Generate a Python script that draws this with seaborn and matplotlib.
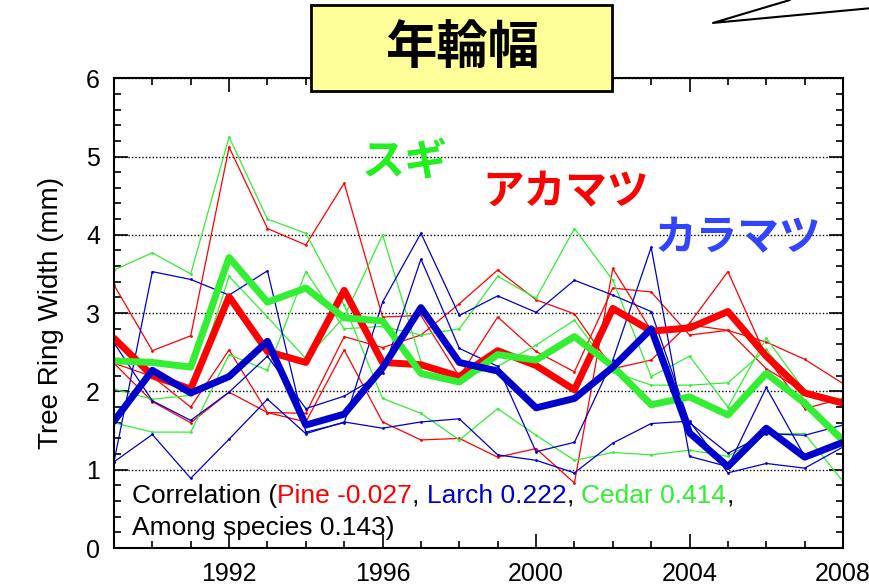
import numpy as np
import pandas as pd
import matplotlib
matplotlib.use("Agg")
import matplotlib.pyplot as plt
from matplotlib.patches import Rectangle
from matplotlib.lines import Line2D
from matplotlib.ticker import MultipleLocator
import seaborn as sns

years = [1989, 1990, 1991, 1992, 1993, 1994, 1995, 1996, 1997, 1998,
         1999, 2000, 2001, 2002, 2003, 2004, 2005, 2006, 2007, 2008]

# individual trees (thin lines)
pine_1 = [3.36, 2.52, 2.71, 5.12, 4.08, 3.87, 4.66, 2.95, 2.97, 2.19, 2.95, 2.51, 2.25, 3.32, 3.27, 2.72, 2.78, 2.63, 2.41, 2.10]
pine_2 = [2.36, 2.19, 1.80, 2.53, 1.73, 1.72, 2.70, 2.56, 2.72, 3.12, 3.55, 3.17, 2.99, 2.29, 2.40, 2.87, 3.53, 2.44, 1.78, 1.91]
pine_3 = [2.36, 1.87, 1.60, 1.99, 1.73, 1.61, 2.53, 1.61, 1.38, 1.40, 1.16, 1.27, 0.83, 3.57, 2.78, 2.85, 2.78, 2.29, 1.99, 1.85]

larch_1 = [1.10, 3.53, 3.43, 3.23, 3.54, 1.48, 1.60, 3.14, 4.02, 2.97, 3.22, 3.01, 3.42, 3.23, 3.02, 1.60, 1.21, 1.46, 1.44, 1.57]
larch_2 = [2.62, 1.88, 1.63, 1.99, 2.45, 1.78, 1.94, 2.23, 3.69, 2.55, 2.32, 1.23, 1.35, 2.40, 3.84, 1.17, 1.04, 2.05, 1.17, 1.36]
larch_3 = [1.10, 1.45, 0.89, 1.39, 1.90, 1.46, 1.61, 1.53, 1.61, 1.65, 1.19, 1.12, 0.96, 1.34, 1.59, 1.62, 0.96, 1.08, 1.02, 1.29]

cedar_1 = [3.55, 3.77, 3.50, 5.25, 4.20, 4.02, 3.10, 1.91, 1.72, 1.38, 1.78, 1.44, 1.12, 1.22, 1.19, 1.25, 1.17, 1.46, 1.46, 0.85]
cedar_2 = [2.03, 1.90, 1.95, 3.47, 2.95, 2.42, 2.95, 4.00, 2.38, 2.17, 2.32, 2.59, 2.91, 2.25, 2.08, 2.08, 2.11, 2.54, 1.89, 1.42]
cedar_3 = [1.60, 1.48, 1.48, 2.47, 2.27, 3.53, 2.80, 2.83, 2.72, 2.80, 3.47, 3.19, 4.08, 3.42, 2.19, 2.45, 1.80, 2.68, 2.01, 1.89]

# species means (thick lines)
pine_mean = [2.68, 2.20, 2.03, 3.21, 2.51, 2.37, 3.29, 2.37, 2.34, 2.19, 2.52, 2.33, 2.02, 3.06, 2.77, 2.81, 3.02, 2.45, 1.98, 1.85]
larch_mean = [1.62, 2.27, 1.98, 2.19, 2.64, 1.57, 1.71, 2.30, 3.07, 2.37, 2.26, 1.79, 1.91, 2.31, 2.80, 1.47, 1.04, 1.53, 1.16, 1.35]
cedar_mean = [2.39, 2.37, 2.31, 3.71, 3.14, 3.32, 2.94, 2.90, 2.23, 2.12, 2.47, 2.40, 2.70, 2.32, 1.83, 1.93, 1.70, 2.23, 1.85, 1.37]

species = ["Pine", "Cedar", "Larch"]
colors = {"Pine": "#ff0000", "Larch": "#0000cc", "Cedar": "#33ee33"}

thin = {"Pine": [pine_1, pine_2, pine_3],
        "Larch": [larch_1, larch_2, larch_3],
        "Cedar": [cedar_1, cedar_2, cedar_3]}
means = {"Pine": pine_mean, "Larch": larch_mean, "Cedar": cedar_mean}

rows = []
for sp, trees in thin.items():
    for k, vals in enumerate(trees):
        for yr, v in zip(years, vals):
            rows.append((yr, v, sp, f"{sp}-{k}"))
df_thin = pd.DataFrame(rows, columns=["year", "width", "species", "tree"])
df_mean = pd.DataFrame([(yr, v, sp) for sp in species for yr, v in zip(years, means[sp])],
                       columns=["year", "width", "species"])

sns.set_style("ticks")
plt.rcParams["font.family"] = ["Liberation Sans", "Noto Sans CJK JP"]
plt.rcParams["text.color"] = "black"
plt.rcParams["axes.labelcolor"] = "black"

fig = plt.figure(figsize=(8.7, 5.88), dpi=100)
ax = fig.add_axes([0.131, 0.068, 0.838, 0.799])

ax.yaxis.grid(True, which="major", color="black", ls=(0, (1, 1.5)), lw=1.0)

sns.lineplot(data=df_thin, x="year", y="width", hue="species", units="tree",
             estimator=None, palette=colors, hue_order=species, lw=0.9,
             marker="o", markersize=2, markeredgewidth=0, legend=False, ax=ax)
sns.lineplot(data=df_mean, x="year", y="width", hue="species",
             palette=colors, hue_order=species, lw=5, legend=False, ax=ax)

ax.set_xlim(1989, 2008)
ax.set_ylim(0, 6)
ax.xaxis.set_major_locator(MultipleLocator(4))
ax.xaxis.set_minor_locator(MultipleLocator(1))
ax.yaxis.set_major_locator(MultipleLocator(1))
ax.yaxis.set_minor_locator(MultipleLocator(0.2))
ax.tick_params(which="both", direction="in", top=True, right=True, width=1.2,
               colors="black", labelcolor="black")
ax.tick_params(which="major", length=10, pad=10, labelsize=18)
ax.tick_params(which="minor", length=5)
for s in ax.spines.values():
    s.set_visible(True)
    s.set_linewidth(1.5)
    s.set_color("black")
ax.set_xlabel("")
ax.set_ylabel("Tree Ring Width (mm)", fontsize=20, labelpad=16)

# species labels
cjk = ["Noto Sans CJK JP"]
ax.text(0.399, 0.823, "スギ", color="#22ee22", fontsize=31, family=cjk, weight="bold",
        ha="center", va="center", transform=ax.transAxes)
ax.text(0.619, 0.757, "アカマツ", color="#ff0000", fontsize=30, family=cjk, weight="bold",
        ha="center", va="center", transform=ax.transAxes)
ax.text(0.855, 0.66, "カラマツ", color="#3344ff", fontsize=30, family=cjk, weight="bold",
        ha="center", va="center", transform=ax.transAxes)

# correlation text, coloured pieces placed one after another
fs = 19
pieces = [("Correlation (", "black"), ("Pine -0.027", colors["Pine"]), (", ", "black"),
          ("Larch 0.222", colors["Larch"]), (", ", "black"),
          ("Cedar 0.414", colors["Cedar"]), (",", "black")]
renderer = fig.canvas.get_renderer()
x0 = 0.025
for s, c in pieces:
    t = ax.text(x0, 0.085, s, transform=ax.transAxes, fontsize=fs, va="bottom", color=c)
    bb = t.get_window_extent(renderer=renderer).transformed(ax.transAxes.inverted())
    x0 = bb.x1
ax.text(0.025, 0.018, "Among species 0.143)", transform=ax.transAxes, fontsize=fs, va="bottom")

# title box
fig.add_artist(Rectangle((0.3575, 0.845), 0.346, 0.146, transform=fig.transFigure,
                         facecolor="#ffff99", edgecolor="black", lw=2, zorder=5))
fig.text(0.531, 0.92, "年輪幅", fontsize=37, weight="bold", family=cjk,
         ha="center", va="center", zorder=6)

# callout fragment top right
fig.add_artist(Line2D([0.908, 0.8195, 1.0], [1.0, 0.961, 0.986],
                      transform=fig.transFigure, color="black", lw=1.5))

plt.savefig("out.png", dpi=100)
plt.close()
